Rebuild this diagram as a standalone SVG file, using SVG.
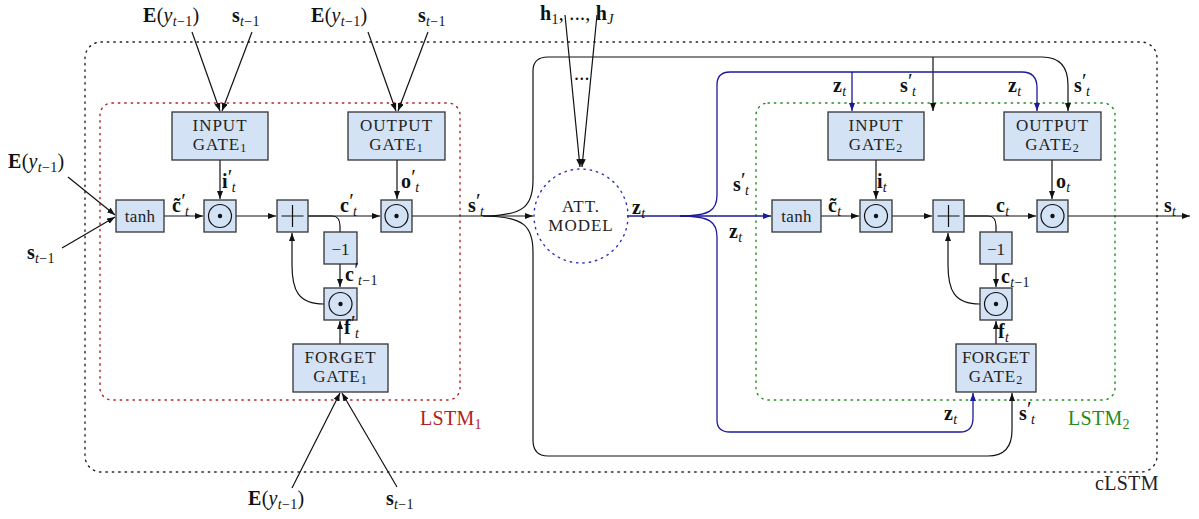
<svg xmlns="http://www.w3.org/2000/svg" width="1199" height="519" viewBox="0 0 1199 519">
<style>
.box{fill:#d3e2f4;stroke:#333;stroke-width:1.3}
.gl{font-family:"Liberation Serif",serif;font-size:17px;fill:#222;text-anchor:middle;letter-spacing:1px}
.m{font-family:"Liberation Serif",serif;font-size:20px;fill:#111;letter-spacing:0.3px}
.b{font-weight:bold}
.i{font-style:italic}
.sub{font-size:14px}
.pr{font-size:21px}
.ln{fill:none;stroke:#111;stroke-width:1.2}
.bl{fill:none;stroke:#1a1a9a;stroke-width:1.3}
.sym{fill:none;stroke:#111;stroke-width:1.2}
.dot{stroke-dasharray:1.4 5;stroke-linecap:round;fill:none;stroke-width:1.4}
</style>
<defs>
<marker id="ah" markerUnits="userSpaceOnUse" markerWidth="10" markerHeight="8" refX="8" refY="3" orient="auto"><path d="M0,0 L8,3 L0,6 z" fill="#111"/></marker>
<marker id="ahb" markerUnits="userSpaceOnUse" markerWidth="10" markerHeight="8" refX="8" refY="3" orient="auto"><path d="M0,0 L8,3 L0,6 z" fill="#1a1a9a"/></marker>
</defs>
<rect width="1199" height="519" fill="#fff"/>

<g id="clstm">
<rect class="dot" x="85" y="42" width="1072" height="430" rx="16" stroke="#222"/>
<text x="1095" y="490" class="m" style="fill:#222">cLSTM</text>
</g>
<g id="lstm1">
<rect class="dot" x="100" y="103" width="360" height="297" rx="12" stroke="#b22222"/>
<text x="420" y="425" class="m" style="fill:#b22222">LSTM<tspan class="sub" dy="4">1</tspan></text>
</g>
<g id="lstm2">
<rect class="dot" x="756" y="103" width="359" height="297" rx="12" stroke="#228b22"/>
<text x="1068" y="425" class="m" style="fill:#228b22">LSTM<tspan class="sub" dy="4">2</tspan></text>
</g>

<g id="connectors">
<path class="ln" d="M192 32 L220 111" marker-end="url(#ah)"/>
<path class="ln" d="M252 32 L222 111" marker-end="url(#ah)"/>
<path class="ln" d="M368 32 L396 111" marker-end="url(#ah)"/>
<path class="ln" d="M428 32 L398 111" marker-end="url(#ah)"/>
<path class="ln" d="M68 177 L115 215" marker-end="url(#ah)"/>
<path class="ln" d="M62 248 L115 217" marker-end="url(#ah)"/>
<path class="ln" d="M292 488 L340 393" marker-end="url(#ah)"/>
<path class="ln" d="M397 487 L342 393" marker-end="url(#ah)"/>
<path class="ln" d="M565 15 L580 167" marker-end="url(#ah)"/>
<path class="ln" d="M597 15 L582 167" marker-end="url(#ah)"/>

<path class="ln" d="M164 216 H203" marker-end="url(#ah)"/>
<path class="ln" d="M220 160 V199" marker-end="url(#ah)"/>
<path class="ln" d="M236 216 H276" marker-end="url(#ah)"/>
<path class="ln" d="M308 216 H380" marker-end="url(#ah)"/>
<path class="ln" d="M308 216 H332 Q340 216 340 226 V232"/>
<path class="ln" d="M340 264 V287" marker-end="url(#ah)"/>
<path class="ln" d="M340 344 V321" marker-end="url(#ah)"/>
<path class="ln" d="M324 304 C298 304 292 290 292 265 V233" marker-end="url(#ah)"/>
<path class="ln" d="M397 160 V199" marker-end="url(#ah)"/>
<path class="ln" d="M412 216 H533" marker-end="url(#ah)"/>

<path class="ln" d="M483 216 C525 216 533 205 533 180 V71 Q533 57 548 57 H1042 Q1068 57 1068 85 V111" marker-end="url(#ah)"/>
<path class="ln" d="M933 57 V111" marker-end="url(#ah)"/>
<path class="ln" d="M483 216 C525 216 533 227 533 252 V440 Q533 456 548 456 H988 Q1012 456 1012 430 V393" marker-end="url(#ah)"/>

<path class="bl" d="M627 216 H771" marker-end="url(#ahb)"/>
<path class="bl" d="M680 216 C710 216 717 210 717 195 V85 Q717 72 730 72 H1022 Q1037 72 1037 88 V111" marker-end="url(#ahb)"/>
<path class="bl" d="M852 72 V111" marker-end="url(#ahb)"/>
<path class="bl" d="M680 216 C710 216 717 222 717 237 V420 Q717 432 730 432 H960 Q973 432 973 418 V393" marker-end="url(#ahb)"/>

<path class="ln" d="M821 216 H859" marker-end="url(#ah)"/>
<path class="ln" d="M876 160 V199" marker-end="url(#ah)"/>
<path class="ln" d="M892 216 H932" marker-end="url(#ah)"/>
<path class="ln" d="M964 216 H1036" marker-end="url(#ah)"/>
<path class="ln" d="M964 216 H988 Q996 216 996 226 V232"/>
<path class="ln" d="M996 264 V287" marker-end="url(#ah)"/>
<path class="ln" d="M996 344 V321" marker-end="url(#ah)"/>
<path class="ln" d="M980 304 C954 304 948 290 948 265 V233" marker-end="url(#ah)"/>
<path class="ln" d="M1052 160 V199" marker-end="url(#ah)"/>
<path class="ln" d="M1068 216 H1190" marker-end="url(#ah)"/>
</g>

<g id="input-gate-1"><rect class="box" x="172" y="112" width="96" height="48"/><text class="gl" x="220" y="131">INPUT</text><text class="gl" x="220" y="150">GATE<tspan font-size="12" dy="2">1</tspan></text></g>
<g id="output-gate-1"><rect class="box" x="348" y="112" width="97" height="48"/><text class="gl" x="396.5" y="131">OUTPUT</text><text class="gl" x="396.5" y="150">GATE<tspan font-size="12" dy="2">1</tspan></text></g>
<g id="forget-gate-1"><rect class="box" x="293" y="344" width="95" height="48"/><text class="gl" x="340.5" y="363">FORGET</text><text class="gl" x="340.5" y="382">GATE<tspan font-size="12" dy="2">1</tspan></text></g>
<g id="tanh-1"><rect class="box" x="116" y="200" width="48" height="32"/><text class="gl" x="140" y="222" font-size="19" style="letter-spacing:0.3px">tanh</text></g>
<g id="mul-i-1"><rect class="box" x="204" y="200" width="32" height="32"/><circle class="sym" cx="220" cy="216" r="11.5"/><circle cx="220" cy="216" r="2.2" fill="#111"/></g>
<g id="add-1"><rect class="box" x="277" y="200" width="31" height="32"/><path class="sym" d="M281.5 216 H303.5 M292.5 205 V227" stroke-width="1.4"/></g>
<g id="mul-o-1"><rect class="box" x="381" y="200" width="31" height="32"/><circle class="sym" cx="396.5" cy="216" r="11.5"/><circle cx="396.5" cy="216" r="2.2" fill="#111"/></g>
<g id="delay-1"><rect class="box" x="324" y="232" width="33" height="32"/><text class="gl" x="340.5" y="255" font-size="20" style="letter-spacing:0">−1</text></g>
<g id="mul-f-1"><rect class="box" x="324" y="288" width="33" height="32"/><circle class="sym" cx="340.5" cy="304" r="11.5"/><circle cx="340.5" cy="304" r="2.2" fill="#111"/></g>

<g id="att-model"><circle cx="581" cy="216" r="47" fill="none" stroke="#3030c0" stroke-width="1.4" stroke-dasharray="1.4 5" stroke-linecap="round"/><text class="gl" x="581" y="212">ATT.</text><text class="gl" x="581" y="231">MODEL</text></g>

<g id="input-gate-2"><rect class="box" x="828" y="112" width="96" height="48"/><text class="gl" x="876" y="131">INPUT</text><text class="gl" x="876" y="150">GATE<tspan font-size="12" dy="2">2</tspan></text></g>
<g id="output-gate-2"><rect class="box" x="1004" y="112" width="97" height="48"/><text class="gl" x="1052.5" y="131">OUTPUT</text><text class="gl" x="1052.5" y="150">GATE<tspan font-size="12" dy="2">2</tspan></text></g>
<g id="forget-gate-2"><rect class="box" x="956" y="344" width="80" height="48"/><text class="gl" x="996" y="363" style="letter-spacing:0.3px">FORGET</text><text class="gl" x="996" y="382">GATE<tspan font-size="12" dy="2">2</tspan></text></g>
<g id="tanh-2"><rect class="box" x="772" y="200" width="49" height="32"/><text class="gl" x="796.5" y="222" font-size="19" style="letter-spacing:0.3px">tanh</text></g>
<g id="mul-i-2"><rect class="box" x="860" y="200" width="32" height="32"/><circle class="sym" cx="876" cy="216" r="11.5"/><circle cx="876" cy="216" r="2.2" fill="#111"/></g>
<g id="add-2"><rect class="box" x="933" y="200" width="31" height="32"/><path class="sym" d="M937.5 216 H959.5 M948.5 205 V227" stroke-width="1.4"/></g>
<g id="mul-o-2"><rect class="box" x="1037" y="200" width="31" height="32"/><circle class="sym" cx="1052.5" cy="216" r="11.5"/><circle cx="1052.5" cy="216" r="2.2" fill="#111"/></g>
<g id="delay-2"><rect class="box" x="980" y="232" width="32" height="32"/><text class="gl" x="996" y="255" font-size="20" style="letter-spacing:0">−1</text></g>
<g id="mul-f-2"><rect class="box" x="980" y="288" width="32" height="32"/><circle class="sym" cx="996" cy="304" r="11.5"/><circle cx="996" cy="304" r="2.2" fill="#111"/></g>

<g id="labels">
<text class="m" x="143" y="22"><tspan class="b">E</tspan>(<tspan class="i">y</tspan><tspan class="sub i" dy="4">t</tspan><tspan class="sub">−1</tspan><tspan dy="-4">)</tspan></text>
<text class="m" x="232" y="22"><tspan class="b">s</tspan><tspan class="sub i" dy="4">t</tspan><tspan class="sub">−1</tspan></text>
<text class="m" x="311" y="22"><tspan class="b">E</tspan>(<tspan class="i">y</tspan><tspan class="sub i" dy="4">t</tspan><tspan class="sub">−1</tspan><tspan dy="-4">)</tspan></text>
<text class="m" x="418" y="22"><tspan class="b">s</tspan><tspan class="sub i" dy="4">t</tspan><tspan class="sub">−1</tspan></text>
<text class="m" x="8" y="168"><tspan class="b">E</tspan>(<tspan class="i">y</tspan><tspan class="sub i" dy="4">t</tspan><tspan class="sub">−1</tspan><tspan dy="-4">)</tspan></text>
<text class="m" x="27" y="259"><tspan class="b">s</tspan><tspan class="sub i" dy="4">t</tspan><tspan class="sub">−1</tspan></text>
<text class="m" x="248" y="505"><tspan class="b">E</tspan>(<tspan class="i">y</tspan><tspan class="sub i" dy="4">t</tspan><tspan class="sub">−1</tspan><tspan dy="-4">)</tspan></text>
<text class="m" x="386" y="505"><tspan class="b">s</tspan><tspan class="sub i" dy="4">t</tspan><tspan class="sub">−1</tspan></text>
<text class="m" x="540" y="20"><tspan class="b">h</tspan><tspan class="sub" dy="4">1</tspan><tspan dy="-4">, ..., </tspan><tspan class="b">h</tspan><tspan class="sub i" dy="4">J</tspan></text>
<text class="m" x="574" y="80">...</text>

<text class="m" x="172" y="212"><tspan class="b">c̃</tspan><tspan class="pr" dy="-4">′</tspan><tspan class="sub i" dx="-1" dy="8">t</tspan></text>
<text class="m" x="222" y="188"><tspan class="b">i</tspan><tspan class="pr" dy="-4">′</tspan><tspan class="sub i" dx="-1" dy="8">t</tspan></text>
<text class="m" x="340" y="212"><tspan class="b">c</tspan><tspan class="pr" dy="-4">′</tspan><tspan class="sub i" dx="-1" dy="8">t</tspan></text>
<text class="m" x="401" y="188"><tspan class="b">o</tspan><tspan class="pr" dy="-4">′</tspan><tspan class="sub i" dx="-1" dy="8">t</tspan></text>
<text class="m" x="468" y="212"><tspan class="b">s</tspan><tspan class="pr" dy="-4">′</tspan><tspan class="sub i" dx="-1" dy="8">t</tspan></text>
<text class="m" x="345" y="281"><tspan class="b">c</tspan><tspan class="pr" dy="-4">′</tspan><tspan class="sub i" dx="-1" dy="8">t</tspan><tspan class="sub">−1</tspan></text>
<text class="m" x="344" y="334"><tspan class="b">f</tspan><tspan class="pr" dy="-4">′</tspan><tspan class="sub i" dx="-1" dy="8">t</tspan></text>

<text class="m" x="632" y="214"><tspan class="b">z</tspan><tspan class="sub i" dy="4">t</tspan></text>
<text class="m" x="733" y="191"><tspan class="b">s</tspan><tspan class="pr" dy="-4">′</tspan><tspan class="sub i" dx="-1" dy="8">t</tspan></text>
<text class="m" x="729" y="238"><tspan class="b">z</tspan><tspan class="sub i" dy="4">t</tspan></text>
<text class="m" x="833" y="92"><tspan class="b">z</tspan><tspan class="sub i" dy="4">t</tspan></text>
<text class="m" x="900" y="92"><tspan class="b">s</tspan><tspan class="pr" dy="-4">′</tspan><tspan class="sub i" dx="-1" dy="8">t</tspan></text>
<text class="m" x="1008" y="92"><tspan class="b">z</tspan><tspan class="sub i" dy="4">t</tspan></text>
<text class="m" x="1074" y="92"><tspan class="b">s</tspan><tspan class="pr" dy="-4">′</tspan><tspan class="sub i" dx="-1" dy="8">t</tspan></text>
<text class="m" x="944" y="420"><tspan class="b">z</tspan><tspan class="sub i" dy="4">t</tspan></text>
<text class="m" x="1019" y="420"><tspan class="b">s</tspan><tspan class="pr" dy="-4">′</tspan><tspan class="sub i" dx="-1" dy="8">t</tspan></text>

<text class="m" x="828" y="212"><tspan class="b">c̃</tspan><tspan class="sub i" dy="4">t</tspan></text>
<text class="m" x="877" y="188"><tspan class="b">i</tspan><tspan class="sub i" dy="4">t</tspan></text>
<text class="m" x="996" y="212"><tspan class="b">c</tspan><tspan class="sub i" dy="4">t</tspan></text>
<text class="m" x="1056" y="188"><tspan class="b">o</tspan><tspan class="sub i" dy="4">t</tspan></text>
<text class="m" x="1164" y="212"><tspan class="b">s</tspan><tspan class="sub i" dy="4">t</tspan></text>
<text class="m" x="1001" y="283"><tspan class="b">c</tspan><tspan class="sub i" dy="4">t</tspan><tspan class="sub">−1</tspan></text>
<text class="m" x="998" y="338"><tspan class="b">f</tspan><tspan class="sub i" dy="4">t</tspan></text>
</g>
</svg>
